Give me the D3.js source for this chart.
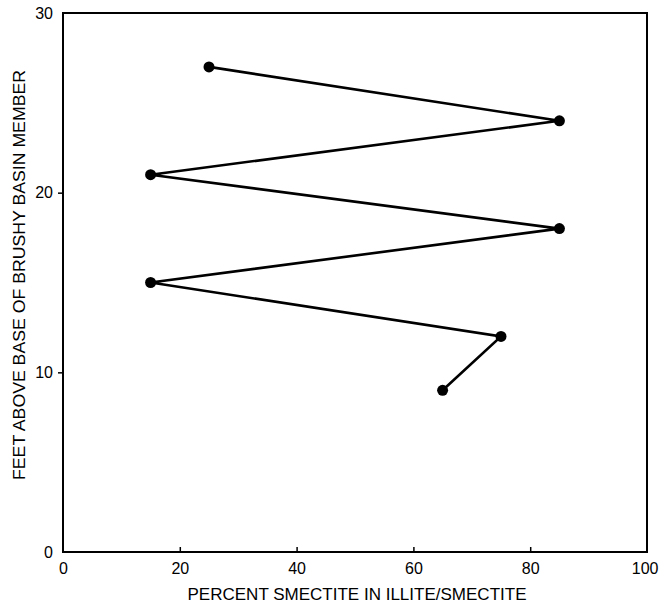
<!DOCTYPE html>
<html><head><meta charset="utf-8">
<script src="https://cdn.jsdelivr.net/npm/d3@7"></script>
<style>body{margin:0;background:#fff}</style>
</head><body>
<svg id="c" width="659" height="606"></svg>
<script>
const smectite = [25, 85, 15, 85, 15, 75, 65];
const feet = [27, 24, 21, 18, 15, 12, 9];
const xTicks = [0, 20, 40, 60, 80, 100];
const yTicks = [0, 10, 20, 30];
const xTitle = "PERCENT SMECTITE IN ILLITE/SMECTITE";
const yTitle = "FEET ABOVE BASE OF BRUSHY BASIN MEMBER";

const svg = d3.select("#c");
const m = {l: 63, r: 647, t: 13, b: 552};
const x = d3.scaleLinear().domain([0, 100]).range([m.l, m.r]);
const y = d3.scaleLinear().domain([0, 30]).range([m.b, m.t]);
const font = "'Liberation Sans Narrow','Liberation Sans',Arial,sans-serif";

svg.append("rect").attr("x", m.l).attr("y", m.t).attr("width", m.r - m.l).attr("height", m.b - m.t)
  .attr("fill", "none").attr("stroke", "#000").attr("stroke-width", 2);

const xa = svg.append("g").attr("transform", `translate(0,${m.b})`)
  .call(d3.axisBottom(x).tickValues(xTicks).tickSize(-5).tickPadding(11).tickFormat(d3.format("d")));
const ya = svg.append("g").attr("transform", `translate(${m.l},0)`)
  .call(d3.axisLeft(y).tickValues(yTicks).tickSize(5).tickPadding(5).tickFormat(d3.format("d")));
[xa, ya].forEach(a => {
  a.select(".domain").remove();
  a.selectAll("line").attr("stroke", "#000").attr("stroke-width", 1.5);
  a.selectAll("text").attr("font-family", font).attr("font-size", 16).attr("fill", "#000");
});
xa.selectAll(".tick text").filter(d => d === 100).attr("text-anchor", "end").attr("dx", 11);
xa.selectAll(".tick line").filter(d => d === 0 || d === 100).remove();
ya.selectAll(".tick line").filter(d => d === 0 || d === 30).remove();

const pts = smectite.map((v, i) => [v, feet[i]]);
svg.append("path").datum(pts)
  .attr("d", d3.line().x(d => x(d[0])).y(d => y(d[1])))
  .attr("fill", "none").attr("stroke", "#000").attr("stroke-width", 2.6).attr("stroke-linejoin", "miter");
svg.selectAll("circle.p").data(pts).join("circle").attr("class", "p")
  .attr("cx", d => x(d[0])).attr("cy", d => y(d[1])).attr("r", 5.5).attr("fill", "#000");

svg.append("text").attr("x", 357).attr("y", 600).attr("text-anchor", "middle")
  .attr("font-family", "'Liberation Sans',Arial,sans-serif").attr("font-size", 17)
  .attr("textLength", 339).attr("lengthAdjust", "spacingAndGlyphs").text(xTitle);
svg.append("text").attr("transform", `translate(25,275) rotate(-90)`).attr("text-anchor", "middle")
  .attr("font-family", "'Liberation Sans',Arial,sans-serif").attr("font-size", 17)
  .attr("textLength", 410).attr("lengthAdjust", "spacingAndGlyphs").text(yTitle);
</script>
</body></html>
